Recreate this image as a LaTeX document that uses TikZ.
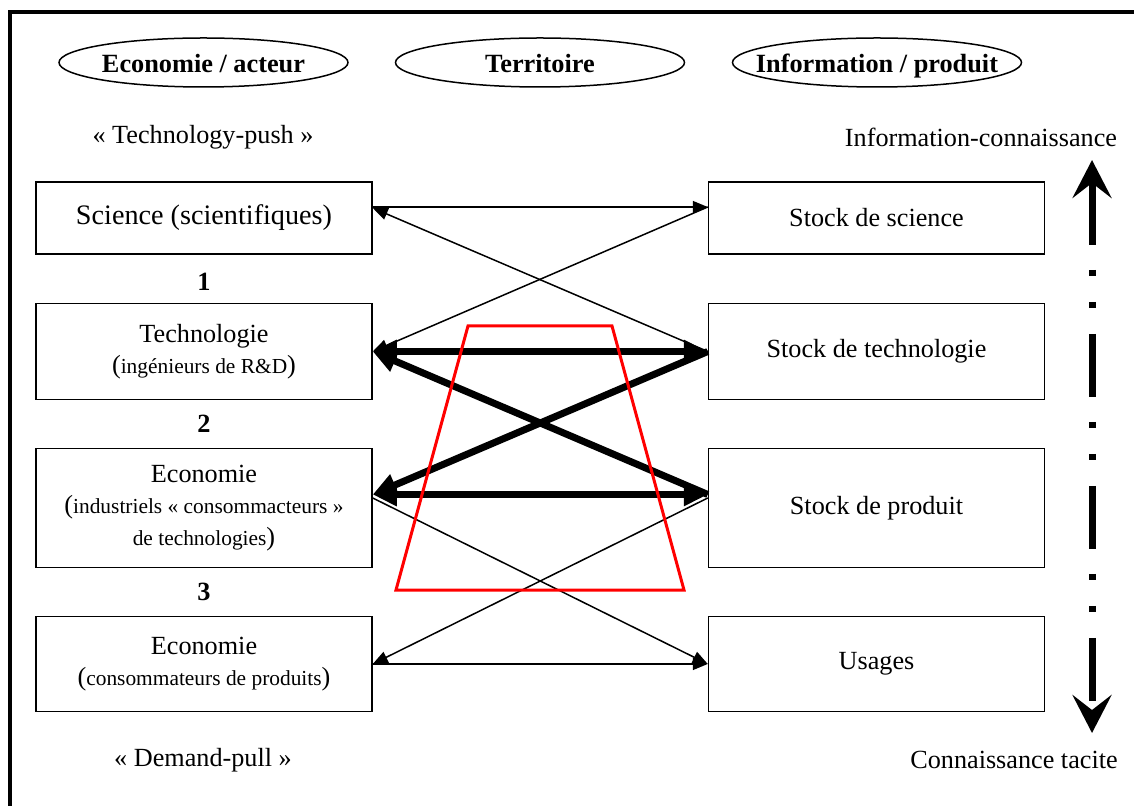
\documentclass[tikz,border=0pt]{standalone}
\usepackage{fontspec}
\setmainfont{Liberation Serif}
\usetikzlibrary{arrows.meta,positioning}

\newcommand{\petit}[1]{{\fontsize{10.7}{15.7}\selectfont #1}}

\begin{document}
\begin{tikzpicture}[
    x=0.5pt, y=-0.5pt,
    node distance=23.75pt and 167.5pt,
    every node/.style={font=\fontsize{13.1}{15.7}\selectfont},
    hdr/.style={font=\fontsize{13.15}{15.7}\selectfont\bfseries, inner sep=0pt, anchor=base},
    num/.style={font=\fontsize{13.15}{15.7}\selectfont\bfseries},
    bloc/.style={draw, line width=0.75pt, minimum width=168pt, align=center, inner sep=0pt},
    fin/.style={line width=0.75pt, >={Triangle[length=7.5pt, width=6pt]}},
    gros/.style={line width=3.5pt, >={Triangle[length=12pt, width=11pt]}},
    axe/.style={line width=3.5pt, >={Stealth[length=19pt, width=19.5pt, inset=7.5pt]},
        dash pattern=on 31.5pt off 12.5pt on 3pt off 13pt on 3pt off 13pt, dash phase=75.5pt}
]
\useasboundingbox (0,0) rectangle (1134,806);
\draw[line width=2pt] (9.5,830) |- (1160,12.5);

% en-tetes
\node[hdr] (ecoH) at (203.5,72.5) {Economie / acteur};
\node[hdr] (terH) at (540,72.5) {Territoire};
\node[hdr] (infH) at (877,72.5) {Information / produit};
\foreach \n in {ecoH,terH,infH}
    \draw[line width=0.75pt] (\n.base) ++(0,-10) ellipse [x radius=72.25pt, y radius=12.25pt];

\node (push) at (203,137) {« Technology-push »};
\node (pull) at (203,760) {« Demand-pull »};
\node (infco) at (981,137) {Information-connaissance};
\node (tacite) at (1014,760) {Connaissance tacite};

% acteurs
\node[bloc, minimum height=36pt] (sci) at (204,218) {\fontsize{14.1}{16}\selectfont Science (scientifiques)};
\node[bloc, minimum height=48pt, below=24pt of sci] (tec) {Technologie\\(\petit{ingénieurs de R\&D})};
\node[bloc, minimum height=59.5pt, below=of tec] (ind) {Economie\\(\petit{industriels « consommacteurs »}\\\petit{de technologies})};
\node[bloc, minimum height=47.5pt, below=of ind] (con) {Economie\\(\petit{consommateurs de produits})};

% stocks
\node[bloc, minimum height=36pt, right=of sci] (ssci) {Stock de science};
\node[bloc, minimum height=48pt, right=of tec] (stec) {Stock de technologie};
\node[bloc, minimum height=59.5pt, right=of ind] (sprod) {Stock de produit};
\node[bloc, minimum height=47.5pt, right=of con] (usa) {Usages};

\node[num] (n1) at (204,282) {1};
\node[num] (n2) at (204,424) {2};
\node[num] (n3) at (204,592) {3};

% liens
\draw[fin, ->] ([yshift=5.5pt]sci.east) -- ([yshift=5.5pt]ssci.west);
\draw[fin, ->] (stec.west) -- ([yshift=5pt]sci.east);
\draw[fin, ->] ([yshift=5.5pt]ssci.west) -- (tec.east);
\draw[gros, <->] (tec.east) -- (stec.west);
\draw[gros, ->] ([yshift=6.75pt]sprod.west) -- (tec.east);
\draw[gros, ->] (stec.west) -- ([yshift=6.75pt]ind.east);
\draw[gros, <->] ([yshift=6.75pt]ind.east) -- ([yshift=6.75pt]sprod.west);
\draw[fin, ->] ([yshift=5pt]ind.east) -- (usa.west);
\draw[fin, ->] ([yshift=5pt]sprod.west) -- (con.east);
\draw[fin, ->] (con.east) -- (usa.west);

% territoire
\draw[red, line width=1.5pt] (468,326) -- (612,326) -- (684,590) -- (396,590) -- cycle;

% axe
\coordinate (haut) at (1092,160);
\coordinate (bas) at (1092,733);
\draw[axe, <->] (haut) -- (bas);
\end{tikzpicture}
\end{document}
